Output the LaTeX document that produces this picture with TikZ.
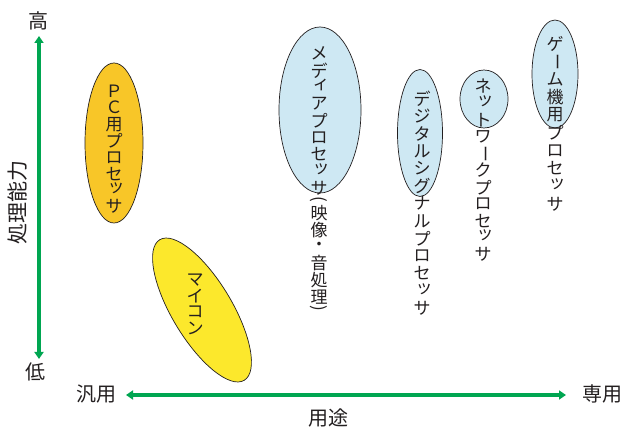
\documentclass[tikz,border=0pt]{standalone}
\usepackage{fontspec}
\usepackage{graphicx}
\newfontfamily\jp{Noto Sans CJK JP}
\usetikzlibrary{shapes.geometric,arrows.meta}
\definecolor{axisgreen}{RGB}{0,166,81}
\definecolor{pcgold}{RGB}{248,198,40}
\definecolor{micyellow}{RGB}{252,232,44}
\definecolor{procblue}{RGB}{206,232,243}
\definecolor{inkgray}{RGB}{35,31,32}

\newdimen\vtpitch
\newcommand\vtcell[4]{%
  \hbox to \vtpitch{\hss\vbox to #1{\vss\hbox{\kern#2\relax #4}\vskip#3\relax\vss}\hss}}

\ExplSyntaxOn
\cs_new_protected:Npn \vt_char:n #1
 {
  \str_case:nnF {#1}
   {
    {ー}{\vtcell{\vtpitch}{0pt}{0pt}{\rotatebox[origin=c]{-90}{ー}}}
    {ィ}{\vtcell{\vtpitch}{0.24em}{0.24em}{ィ}}
    {ッ}{\vtcell{\vtpitch}{0.24em}{0.24em}{ッ}}
    {（}{\vtcell{0.5\vtpitch}{0pt}{0pt}{\rotatebox[origin=c]{-90}{(}}}
    {）}{\vtcell{0.5\vtpitch}{0pt}{0pt}{\rotatebox[origin=c]{-90}{)}}}
   }
   {\vtcell{\vtpitch}{0pt}{0pt}{#1}}
 }
\NewDocumentCommand\vtext{O{17pt}m}
 {
  \group_begin:
  \vtpitch=#1\relax
  \vbox{\offinterlineskip \tl_map_inline:nn {#2}{\vt_char:n{##1}}}
  \group_end:
 }
\ExplSyntaxOff

\tikzset{
  blob/.style={ellipse, draw=inkgray, line width=0.7pt, inner sep=0pt},
  vlabel/.style={inner sep=0pt, text=inkgray, font=\jp\fontsize{17}{17}\selectfont},
  axislabel/.style={inner sep=0pt, text=inkgray, font=\jp\fontsize{20}{24}\selectfont},
  axisarrow/.style={draw=axisgreen, line width=3.2pt,
    {Triangle[length=7pt,width=9pt]}-{Triangle[length=7pt,width=9pt]}},
}

\begin{document}
\begin{tikzpicture}[x=1pt,y=-1pt]
\fill[white] (0,0) rectangle (627,430);
\useasboundingbox (0,0) rectangle (627,430);

% ellipses
\node[blob, fill=pcgold, minimum width=58pt, minimum height=160pt] (pc) at (114,143) {};
\node[blob, fill=micyellow, minimum width=60pt, minimum height=164pt, rotate=31] (micon) at (202,310) {};
\node[blob, fill=procblue, minimum width=82pt, minimum height=166pt] (media) at (320,110) {};
\node[blob, fill=procblue, minimum width=45pt, minimum height=127pt] (dsp) at (420,133) {};
\node[blob, fill=procblue, minimum width=48pt, minimum height=58pt] (net) at (484,99) {};
\node[blob, fill=procblue, minimum width=46pt, minimum height=108pt] (game) at (555,74) {};

% vertical texts
\node[vlabel] (pctext) at (114,149) {\vtext[16.5pt]{ＰＣ用プロセッサ}};
\node[vlabel] (mictext) at (195,304) {\vtext[16pt]{マイコン}};
\node[vlabel] (mediatext) at (319,179.5) {\vtext[16.8pt]{メディアプロセッサ（映像・音処理）}};
\node[vlabel] (dsptext) at (422,203.5) {\vtext[17.5pt]{デジタルシグナルプロセッサ}};
\node[vlabel] (nettext) at (483,170.5) {\vtext[16.8pt]{ネットワークプロセッサ}};
\node[vlabel] (gametext) at (555,124) {\vtext[17.8pt]{ゲーム機用プロセッサ}};

% axis labels
\node[axislabel] (high) at (38,21) {高};
\node[axislabel] (low) at (35,372) {低};
\node[axislabel, rotate=90, font=\jp\fontsize{21}{24}\selectfont] (perf) at (18,203) {処理能力};
\node[axislabel] (general) at (96,394) {汎用};
\node[axislabel] (special) at (602,394) {専用};
\node[axislabel] (usage) at (328,418) {用途};

% axes
\coordinate (vtop) at (39,36);
\coordinate (vbot) at (39,359);
\coordinate (hleft) at (126,395);
\coordinate (hright) at (566,395);
\draw[axisarrow] (vtop) -- (vbot);
\draw[axisarrow] (hleft) -- (hright);
\end{tikzpicture}
\end{document}
